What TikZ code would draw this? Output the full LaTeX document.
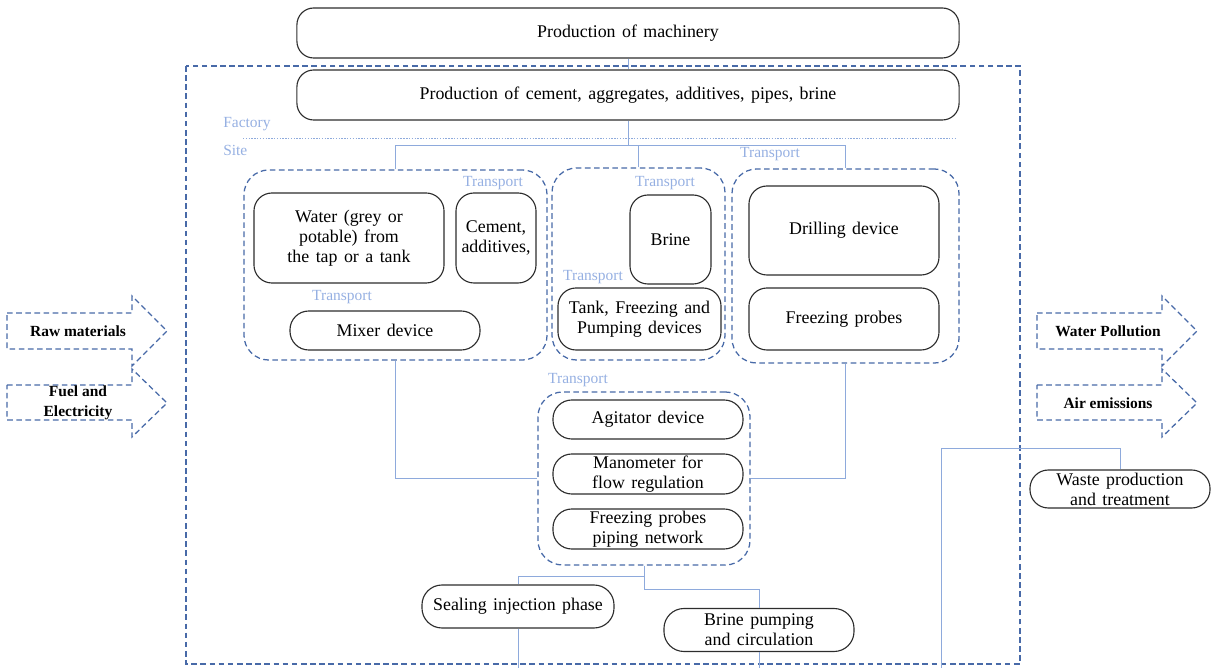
\documentclass[tikz,border=0pt]{standalone}
\usepackage{fontspec}
\setmainfont{Liberation Serif}
\usepackage{xcolor}
\usepackage{tikz}
\usetikzlibrary{positioning, calc}
\definecolor{mydark}{RGB}{45,45,45}
\definecolor{myblue}{RGB}{72,106,168}
\definecolor{mylink}{RGB}{142,170,220}
\definecolor{mylabel}{RGB}{150,176,226}
\newcommand{\boxfont}{\fontsize{12.7}{14.2}\selectfont\spaceskip 4.6pt plus 1pt\relax}
\tikzset{
  box/.style={rectangle, draw=mydark, align=center, line width=0.8pt,
    rounded corners=0.42cm, inner sep=1pt, font=\boxfont},
  pill/.style={box, rounded corners=0.47cm},
  group/.style={rectangle, draw=myblue, dash pattern=on 4pt off 2.5pt,
    line width=0.9pt, rounded corners=0.62cm},
  link/.style={draw=mylink, line width=0.7pt},
  tlabel/.style={text=mylabel, inner sep=0pt, font=\fontsize{11}{13}\selectfont},
  flow/.style={draw=myblue, dash pattern=on 4pt off 2.5pt, line width=0.9pt},
  flowtext/.style={align=center, inner sep=0pt, font=\bfseries\fontsize{11}{14.2}\selectfont}
}

\begin{document}
\begin{tikzpicture}[x=0.025cm, y=-0.025cm]
  \useasboundingbox (0,0) rectangle (1211,668);

  % --- FACTORY ---
  \node[box, minimum width=16.55cm, minimum height=1.25cm] (mach) at (628,33) {Production of machinery};
  \draw[group, rounded corners=0pt] (186,66) rectangle (1020,664);
  \node[box, minimum width=16.55cm, minimum height=1.25cm] (cem) at (628,95) {Production of cement, aggregates, additives, pipes, brine};
  \draw[link] (mach.south) -- (cem.north);

  \node[tlabel, anchor=west] (factory) at (223,124) {Factory};
  \node[tlabel, anchor=west] (site) at (223,150) {Site};
  \draw[link, dash pattern=on 1pt off 1pt] (243,138) -- (957,138);

  % --- SITE GROUPS ---
  \node[group, minimum width=7.575cm, minimum height=4.75cm] (g1) at (395.5,265) {};
  \node[group, minimum width=4.325cm, minimum height=4.8cm] (g2) at (638.5,264) {};
  \node[group, minimum width=5.675cm, minimum height=4.85cm] (g3) at (845.5,266) {};

  \node[box, minimum width=4.75cm, minimum height=2.25cm, rounded corners=0.45cm] (water) at (349,238) {Water (grey or\\potable) from\\the tap or a tank};
  \node[box, minimum width=2cm, minimum height=2.25cm, rounded corners=0.45cm] (cemadd) at (496,238) {Cement,\\additives,};
  \node[pill, minimum width=4.75cm, minimum height=0.975cm] (mixer) at (385,330.5) {Mixer device};

  \node[box, minimum width=2.025cm, minimum height=2.225cm, rounded corners=0.45cm] (brine) at (670.5,239.5) {Brine};
  \node[box, minimum width=4.075cm, minimum height=1.55cm, rounded corners=0.45cm] (tank) at (639.5,319) {Tank, Freezing and\\Pumping devices};

  \node[box, minimum width=4.75cm, minimum height=2.225cm, rounded corners=0.45cm] (drill) at (844,230.5) {Drilling device};
  \node[box, minimum width=4.75cm, minimum height=1.55cm, rounded corners=0.45cm] (probes) at (844,319) {Freezing probes};

  \node[tlabel] (t1) at (770,154) {Transport};
  \node[tlabel] (t2) at (493,183) {Transport};
  \node[tlabel] (t3) at (342,297) {Transport};
  \node[tlabel] (t4) at (665,183) {Transport};
  \node[tlabel] (t5) at (593,277) {Transport};
  \node[tlabel] (t6) at (578,380) {Transport};

  \coordinate (bus) at ($(cem.south)+(0,25)$);
  \draw[link] (cem.south) -- (bus);
  \draw[link] (g1.north) |- (bus) -| (g3.north);
  \draw[link] (g2.north) -- (g2.north |- bus);

  % --- INJECTION GROUP ---
  \node[group, minimum width=5.3cm, minimum height=4.325cm] (g4) at (644,478.5) {};
  \node[pill, minimum width=4.75cm, minimum height=0.975cm] (agit) at (648,419.5) {Agitator device};
  \node[pill, minimum width=4.75cm, minimum height=1cm] (mano) at (648,474) {Manometer for\\flow regulation};
  \node[pill, minimum width=4.75cm, minimum height=1cm] (piping) at (648,529) {Freezing probes\\piping network};

  \draw[link] (g1.south) |- (g4.west);
  \draw[link] (g3.south) |- (g4.east);

  % --- PHASES ---
  \node[pill, minimum width=4.8cm, minimum height=1.075cm, rounded corners=0.5cm] (seal) at (518,606.5) {Sealing injection phase};
  \node[pill, minimum width=4.75cm, minimum height=1.075cm, rounded corners=0.5cm] (pump) at (759,630) {Brine pumping\\and circulation};
  \node[pill, minimum width=4.5cm, minimum height=0.95cm, rounded corners=0.46cm] (waste) at (1120,489) {Waste production\\and treatment};

  \coordinate (split) at ($(g4.south)+(0,11)$);
  \draw[link] (g4.south) -- ++(0,24) -| (pump.north);
  \draw[link] (split) -| (seal.north);
  \coordinate (floor) at (0,668);
  \draw[link] (seal.south) -- (seal.south |- floor);
  \draw[link] (pump.south) -- (pump.south |- floor);
  \coordinate (wasteout) at (941,668);
  \coordinate (wbend) at (941,448);
  \draw[link] (wasteout) -- (wbend) -| (waste.north);

  % --- INPUTS / OUTPUTS ---
  \draw[flow] (7,313) -- (132,313) -- (132,296) -- (167,331) -- (132,366) -- (132,349) -- (7,349) -- cycle;
  \node[flowtext] (raw) at (78,331) {Raw materials};
  \draw[flow] (7,385) -- (132,385) -- (132,369) -- (167,403) -- (132,437) -- (132,420) -- (7,420) -- cycle;
  \node[flowtext] (fuel) at (78,403) {Fuel and\\Electricity};

  \draw[flow] (1037,313) -- (1162,313) -- (1162,296) -- (1197,331) -- (1162,366) -- (1162,349) -- (1037,349) -- cycle;
  \node[flowtext] (wpol) at (1108,331) {Water Pollution};
  \draw[flow] (1037,385) -- (1162,385) -- (1162,369) -- (1197,403) -- (1162,437) -- (1162,420) -- (1037,420) -- cycle;
  \node[flowtext] (air) at (1108,403) {Air emissions};
\end{tikzpicture}
\end{document}
